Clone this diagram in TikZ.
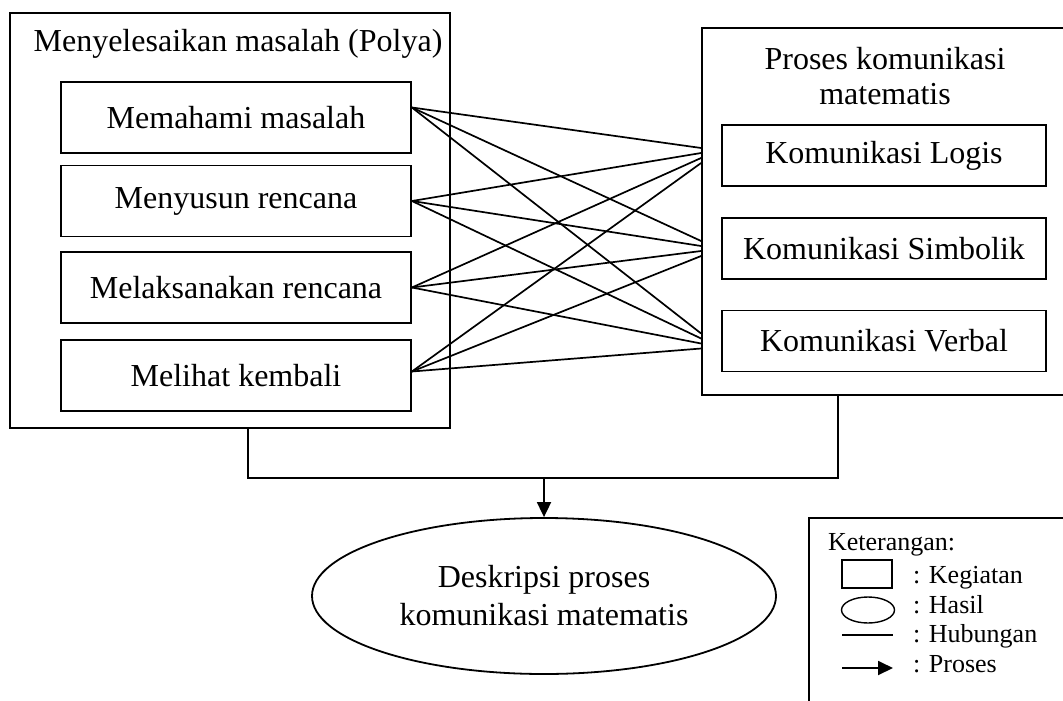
\documentclass[tikz,border=0pt]{standalone}
\usepackage{fontspec}
\setmainfont{Liberation Serif}
\usepackage{tikz}
\usetikzlibrary{arrows.meta,shapes.geometric,calc}
\tikzstyle{kotak}=[draw,line width=0.9pt,inner sep=0pt]
\tikzstyle{kegiatan}=[kotak,minimum width=175pt,minimum height=35.5pt]
\tikzstyle{komunikasi}=[kotak,minimum width=162pt,minimum height=30.5pt]
\tikzstyle{hasil}=[draw,line width=0.9pt,ellipse,inner sep=0pt]
\tikzstyle{hubungan}=[draw,line width=0.85pt]
\tikzstyle{alur}=[draw,line width=0.9pt,-{Triangle[length=7.5pt,width=7pt]}]

\begin{document}
\begin{tikzpicture}[x=0.5pt,y=-0.5pt,font=\fontsize{16}{19}\selectfont]
    \useasboundingbox (0,0) rectangle (1063,700);
    \clip (0,0) rectangle (1063,700);
    % kotak luar
    \node[kotak,minimum width=220pt,minimum height=207.5pt] (polya) at (230,220.5) {};
    \node[kotak,minimum width=200pt,minimum height=183.5pt] (kom) at (902,211.5) {};
    \node (judulpolya) at (238,44) {Menyelesaikan masalah (Polya)};
    \node[align=center,font=\fontsize{16}{17.5}\selectfont] (judulkom) at (885,76) {Proses komunikasi\\matematis};
    % langkah Polya
    \foreach \pos/\name/\teks in {{(236,117.5)/m1/Memahami masalah},{(236,201)/m2/Menyusun rencana},{(236,287.5)/m3/Melaksanakan rencana},{(236,375.5)/m4/Melihat kembali}}
        \node[kegiatan] (\name) at \pos {\teks};
    % jenis komunikasi
    \foreach \pos/\name/\teks in {{(884,155.5)/k1/Komunikasi Logis},{(884,248.5)/k2/Komunikasi Simbolik},{(884,341)/k3/Komunikasi Verbal}}
        \node[komunikasi] (\name) at \pos {\teks};
    % hubungan
    \foreach \i/\dy in {1/-10,2/0,3/0,4/-4}
        \foreach \j in {1,2,3}
            \path[hubungan] ($(m\i.east)+(0,\dy)$) -- ($(kom.west |- k\j.west)+(0,{(\i-2.5)*5})$);
    % menuju hasil
    \coordinate (jl) at (248,478);
    \coordinate (jr) at (838,478);
    \draw[line width=0.9pt] (polya.south -| jl) -- (jl) -- (jr) -- (kom.south -| jr);
    \node[hasil,minimum width=232pt,minimum height=78pt,align=center] (hasil) at (544,596) {Deskripsi proses\\komunikasi matematis};
    \path[alur] (hasil.north |- jl) -- (hasil.north);
    % keterangan
    \node[kotak,anchor=north west,minimum width=140pt,minimum height=100pt] (ket) at (808,517) {};
    \begin{scope}[font=\fontsize{13}{15}\selectfont]
        \node[anchor=base west] (judulket) at (821,550) {Keterangan:};
        \node[kotak,line width=0.7pt,minimum width=25pt,minimum height=14pt] (simkotak) at (867,574) {};
        \node[hasil,line width=0.7pt,minimum width=26.5pt,minimum height=13pt] (simhasil) at (868,610) {};
        \coordinate (hub1) at (842,635);
        \coordinate (hub2) at (893,635);
        \coordinate (pro1) at (842,668);
        \coordinate (pro2) at (893,668);
        \path[hubungan] (hub1) -- (hub2);
        \path[alur] (pro1) -- (pro2);
        \foreach \y/\teks in {583/Kegiatan,613/Hasil,642/Hubungan,672/Proses}
            \node[anchor=base west,inner ysep=0pt] (ket\teks) at (906,\y) {: \teks};
    \end{scope}
\end{tikzpicture}
\end{document}
